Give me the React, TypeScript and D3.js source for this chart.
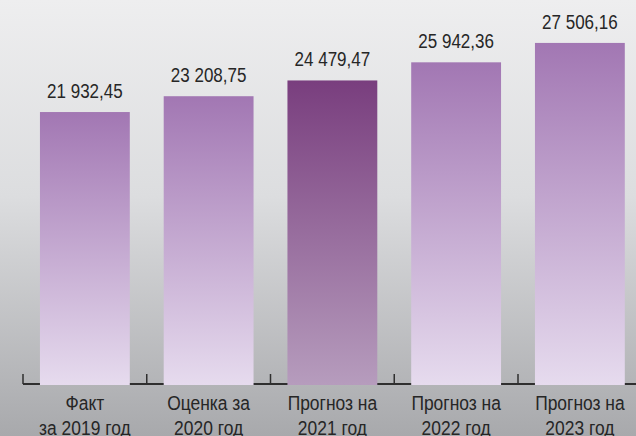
import React from "react";
import * as d3 from "d3";

const categories: string[][] = [
  ["Факт", "за 2019 год"],
  ["Оценка за", "2020 год"],
  ["Прогноз на", "2021 год"],
  ["Прогноз на", "2022 год"],
  ["Прогноз на", "2023 год"],
];
const values: number[] = [21932.45, 23208.75, 24479.47, 25942.36, 27506.16];
const valueLabels: string[] = ["21 932,45", "23 208,75", "24 479,47", "25 942,36", "27 506,16"];
const highlightIndex = 2;

const W = 636;
const H = 436;
const FONT = "'Liberation Sans', Arial, sans-serif";

export default function App() {
  const keys = categories.map((_, i) => String(i));
  const x = d3.scaleBand<string>().domain(keys).range([23, 23 + 5 * 123.75]).paddingInner(0.274).paddingOuter(0.137);
  const y = d3.scaleLinear().domain([0, 30000]).range([384, 12]);
  const baseY = y(0);
  const tickXs = keys.map((k) => (x(k) as number) - (x.step() * x.paddingInner()) / 2);
  tickXs.push((x(keys[keys.length - 1]) as number) + x.bandwidth() + (x.step() * x.paddingInner()) / 2);

  return (
    <svg width={W} height={H} style={{ position: "absolute", left: 0, top: 0, display: "block" }}>
      <defs>
        <linearGradient id="bg" x1="0" y1="0" x2="0" y2="1">
          <stop offset="0%" stopColor="#eeeeef" />
          <stop offset="45%" stopColor="#dcdddf" />
          <stop offset="100%" stopColor="#a8a9ac" />
        </linearGradient>
        <linearGradient id="barN" x1="0" y1="0" x2="0" y2="1">
          <stop offset="0%" stopColor="#a277b3" />
          <stop offset="100%" stopColor="#e6dbee" />
        </linearGradient>
        <linearGradient id="barH" x1="0" y1="0" x2="0" y2="1">
          <stop offset="0%" stopColor="#793e7e" />
          <stop offset="100%" stopColor="#b69cbd" />
        </linearGradient>
      </defs>
      <rect x={0} y={0} width={W} height={H} fill="url(#bg)" />
      <line x1={tickXs[0]} x2={W} y1={baseY} y2={baseY} stroke="#2f2f2f" strokeWidth={2} />
      {tickXs.map((tx, i) => (
        <line key={"t" + i} x1={tx} x2={tx} y1={baseY} y2={baseY - 10} stroke="#2f2f2f" strokeWidth={1.5} />
      ))}
      {values.map((v, i) => {
        const bx = x(keys[i]) as number;
        const cx = bx + x.bandwidth() / 2;
        const top = y(v);
        return (
          <g key={"b" + i}>
            <rect
              x={bx}
              y={top}
              width={x.bandwidth()}
              height={baseY + 1 - top}
              fill={i === highlightIndex ? "url(#barH)" : "url(#barN)"}
            />
            <text
              transform={`translate(${cx},${top - 14}) scale(0.81,1)`}
              textAnchor="middle"
              fontFamily={FONT}
              fontSize={21}
              fill="#262626"
            >
              {valueLabels[i]}
            </text>
            {categories[i].map((line, j) => (
              <text
                key={j}
                transform={`translate(${cx},${410 + j * 25}) scale(0.83,1)`}
                textAnchor="middle"
                fontFamily={FONT}
                fontSize={21}
                fill="#262626"
              >
                {line}
              </text>
            ))}
          </g>
        );
      })}
    </svg>
  );
}
